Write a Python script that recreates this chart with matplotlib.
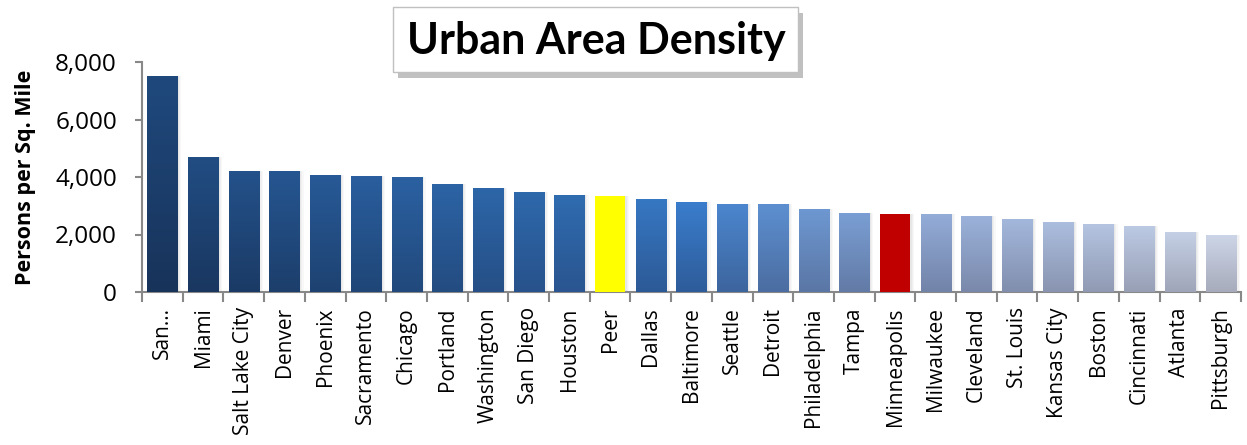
import numpy as np
import matplotlib
matplotlib.use('Agg')
import matplotlib.pyplot as plt
from matplotlib.colors import LinearSegmentedColormap, to_rgb
from matplotlib.patches import Rectangle

plt.rcParams['font.family'] = ['Open Sans', 'DejaVu Sans']

cities = ['San...', 'Miami', 'Salt Lake City', 'Denver', 'Phoenix', 'Sacramento',
          'Chicago', 'Portland', 'Washington', 'San Diego', 'Houston', 'Peer',
          'Dallas', 'Baltimore', 'Seattle', 'Detroit', 'Philadelphia', 'Tampa',
          'Minneapolis', 'Milwaukee', 'Cleveland', 'St. Louis', 'Kansas City',
          'Boston', 'Cincinnati', 'Atlanta', 'Pittsburgh']
density = [7500, 4700, 4200, 4200, 4070, 4030, 4000, 3750, 3620, 3480, 3370, 3340,
           3230, 3130, 3060, 3060, 2890, 2750, 2710, 2710, 2650, 2550, 2450,
           2350, 2300, 2100, 2000]
highlight = {'Peer': '#ffff00', 'Minneapolis': '#c00000'}

# top / bottom colour of the gradient at a few key positions
key_pos = [0, 5, 10, 13, 16, 19, 26]
key_top = ['#1f497d', '#2a5e9e', '#2f6cb0', '#3a7dcc', '#6e98d2', '#93acd8', '#cdd6e8']
key_bot = ['#18335a', '#1f4677', '#2a5590', '#2e5c9a', '#5a76a5', '#7283a8', '#a7abbb']


def interp_colour(i, keys):
    rgb = np.array([to_rgb(c) for c in keys])
    return tuple(np.interp(i, key_pos, rgb[:, k]) for k in range(3))


fig = plt.figure(figsize=(12.47, 4.45), dpi=100)
ax = fig.add_axes([142 / 1247, 1 - 292 / 445, (1241 - 142) / 1247, 230 / 445])

x = np.arange(len(cities))
width = 0.74

# soft shadow to the right of each bar
for off, a in [(0.10, 0.05), (0.07, 0.06), (0.04, 0.08)]:
    ax.bar(x + off, density, width, color='#808080', alpha=a, zorder=1,
           linewidth=0)

bars = ax.bar(x, density, width, color='none', linewidth=0, zorder=2)

for i, (b, city) in enumerate(zip(bars, cities)):
    x0, w, h = b.get_x(), b.get_width(), b.get_height()
    if city in highlight:
        ax.add_patch(Rectangle((x0, 0), w, h, color=highlight[city], zorder=3, linewidth=0))
        continue
    cmap = LinearSegmentedColormap.from_list(
        'g', [interp_colour(i, key_bot), interp_colour(i, key_top)])
    grad = np.linspace(0, 1, 100).reshape(-1, 1)
    im = ax.imshow(grad, cmap=cmap, origin='lower', aspect='auto',
                   extent=[x0, x0 + w, 0, h], zorder=3)
    im.set_clip_path(b)

ax.set_xlim(-0.5, len(cities) - 0.5)
ax.set_ylim(0, 8000)
ax.set_yticks([0, 2000, 4000, 6000, 8000])
ax.set_yticklabels([f'{v:,}' for v in [0, 2000, 4000, 6000, 8000]], fontsize=17.5)

ax.set_xticks(x)
ax.set_xticklabels(cities, rotation=90, fontsize=15)
ax.set_xticks(np.arange(len(cities) + 1) - 0.5, minor=True)
ax.tick_params(axis='x', which='major', length=0, pad=11)
ax.tick_params(axis='x', which='minor', length=7, color='#888888', width=1.5)
ax.tick_params(axis='y', length=5, color='#888888', width=1.5, pad=13)

for s in ['top', 'right']:
    ax.spines[s].set_visible(False)
for s in ['left', 'bottom']:
    ax.spines[s].set_color('#888888')
    ax.spines[s].set_linewidth(1.5)

ax.set_ylabel('Persons per Sq. Mile', fontsize=15.5, fontweight='bold', labelpad=14)

# title box with drop shadow
for d, a in [(6, 0.10), (4, 0.15), (2.5, 0.25)]:
    fig.patches.append(Rectangle((398 / 1247, 1 - 78 / 445), 405 / 1247, 65 / 445,
                                 transform=fig.transFigure, color='#707070',
                                 alpha=a, linewidth=0, zorder=0))
fig.patches.append(Rectangle((393 / 1247, 1 - 72 / 445), 405 / 1247, 65 / 445,
                             transform=fig.transFigure, facecolor='white',
                             edgecolor='#c0c0c0', linewidth=1, zorder=1))
fig.text(596 / 1247, 1 - 41 / 445, 'Urban Area Density', fontsize=31,
         fontweight='bold', ha='center', va='center', zorder=5,
         family=['Lato', 'DejaVu Sans'])

fig.savefig('out.png', dpi=100)
